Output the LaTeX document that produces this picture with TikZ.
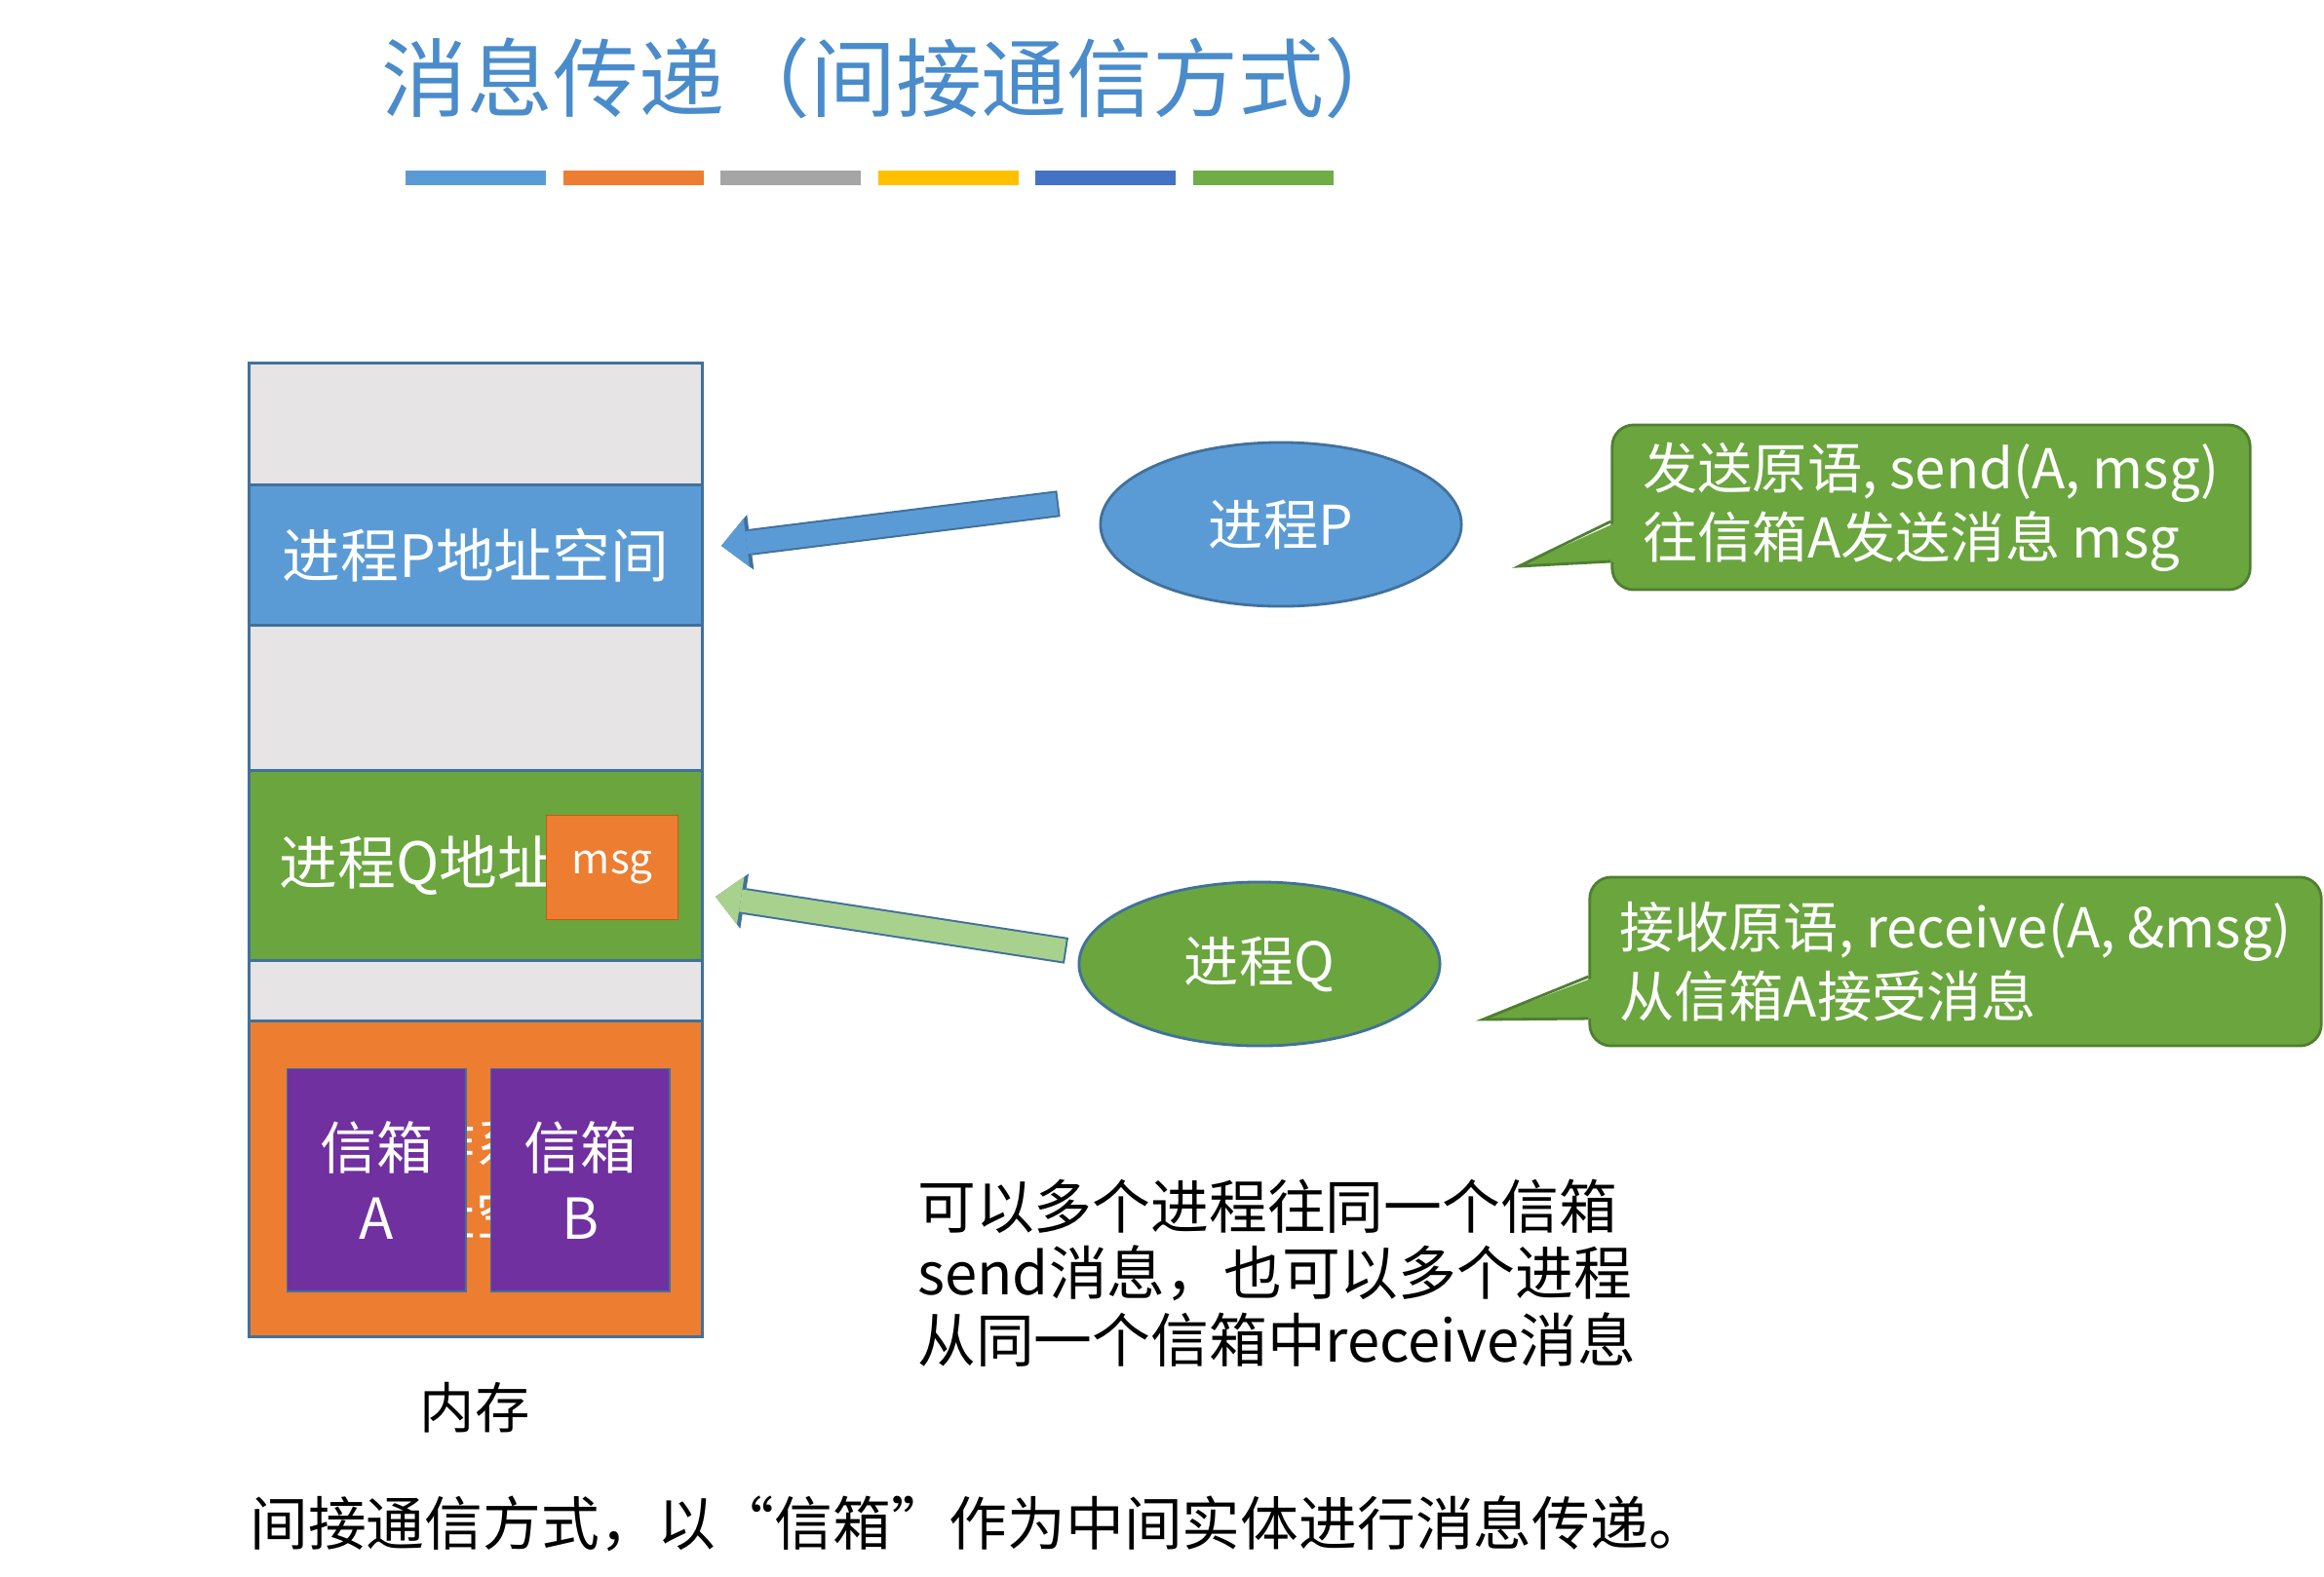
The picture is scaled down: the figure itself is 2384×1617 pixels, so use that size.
\documentclass[tikz,border=0pt]{standalone}
\usepackage{fontspec}
\setmainfont{Noto Sans CJK SC}
\usetikzlibrary{shapes.geometric,arrows.meta}

\definecolor{titleblue}{HTML}{4A8CCB}
\definecolor{pblue}{HTML}{5B9BD5}
\definecolor{pline}{HTML}{41719C}
\definecolor{qgreen}{HTML}{6AA53E}
\definecolor{qline}{HTML}{507E32}
\definecolor{qlight}{HTML}{A9D18E}
\definecolor{memgray}{HTML}{E6E4E4}
\definecolor{sysorange}{HTML}{ED7D31}
\definecolor{msgline}{HTML}{C55A11}
\definecolor{boxpurple}{HTML}{7030A0}
\definecolor{bargray}{HTML}{A5A5A5}
\definecolor{baryellow}{HTML}{FFC000}
\definecolor{bardark}{HTML}{4472C4}
\definecolor{bargreen}{HTML}{70AD47}

\tikzset{
  memcell/.style={draw=pline, line width=0.8pt, minimum width=4.65cm, inner sep=0pt, anchor=north west},
  mailbox/.style={draw=pline, fill=boxpurple, text=white, minimum width=1.83cm, minimum height=2.28cm,
    anchor=north west, inner sep=0pt, align=center, font=\fontsize{16.5}{20.5}\selectfont},
  proc/.style={ellipse, draw=pline, line width=0.8pt, text=white, minimum width=3.7cm, minimum height=1.68cm,
    font=\fontsize{16}{20}\selectfont},
  note/.style={draw=qline, fill=qgreen, rounded corners=0.22cm, line width=0.8pt, text=white, align=left,
    inner sep=0pt, font=\fontsize{16}{20.3}\selectfont},
  pipe/.style 2 args={draw=#1, line width=0.23cm, -{Triangle[length=0.26cm, width=0.5cm, line width=0pt]},
    preaction={draw=#2, line width=0.27cm, shorten <=-0.02cm, -{Triangle[length=0.3cm, width=0.57cm, line width=0pt]}}},
}

\begin{document}
\begin{tikzpicture}[x=0.01cm, y=-0.01cm]
	\path[use as bounding box, fill=white] (0,0) rectangle (2384,1617);
	% Titel
	\node[text=titleblue, font=\fontsize{25}{29}\selectfont] (title) at (919,80) {消息传递（间接通信方式）};
	\foreach \c [count=\i from 0] in {pblue,sysorange,bargray,baryellow,bardark,bargreen}
		\fill[\c] (416+\i*161.6,175) rectangle ++(144,15);
	% Speicher
	\node[memcell, fill=memgray, minimum height=1.25cm] (memTop) at (254,371) {};
	\node[memcell, fill=pblue, minimum height=1.44cm, text=white, font=\fontsize{17}{20}\selectfont] (memP) at (254,496) {进程P地址空间};
	\node[memcell, fill=memgray, minimum height=1.49cm] (memMid) at (254,640) {};
	\node[memcell, fill=qgreen, minimum height=1.95cm, text=white, font=\fontsize{17}{20}\selectfont] (memQ) at (254,789) {进程Q地址空间};
	\node[memcell, fill=memgray, minimum height=0.62cm] (memLow) at (254,984) {};
	\node[memcell, fill=sysorange, minimum height=3.24cm, text=white, align=center, font=\fontsize{16}{20.5}\selectfont] (memSys) at (254,1046) {操作系统\\地址空间};
	\node[draw=msgline, fill=sysorange, text=white, minimum width=1.35cm, minimum height=1.07cm, inner sep=0pt,
		anchor=north west, font=\fontsize{12}{14}\selectfont] (msg) at (560,836) {msg};
	\node[mailbox] (boxA) at (294,1096) {信箱\\A};
	\node[mailbox] (boxB) at (503,1096) {信箱\\B};
	\node[font=\fontsize{16}{20}\selectfont] (mem) at (487,1444) {内存};
	% Prozesse
	\node[proc, fill=pblue] (procP) at (1314,538) {进程P};
	\node[proc, fill=qgreen] (procQ) at (1292,989) {进程Q};
	\coordinate (pTail) at (1084,517);
	\coordinate (pTip)  at (740,560);
	\coordinate (qTail) at (1092,975);
	\coordinate (qTip)  at (734,920);
	\draw[pipe={pblue}{pline}] (pTail) -- (pTip);
	\draw[pipe={qlight}{pline}] (qTail) -- (qTip);
	% Sprechblasen
	\node[note, minimum width=6.54cm, minimum height=1.69cm] (sendNote) at (1981,520.5)
		{发送原语, send(A, msg)\\往信箱A发送消息 msg};
	\node[note, minimum width=7.5cm, minimum height=1.73cm] (recvNote) at (2006,986.5)
		{接收原语, receive(A, \&msg)\\从信箱A接受消息};
	\coordinate (sendTip) at (1558,581);
	\coordinate (recvTip) at (1521,1046);
	\fill[qgreen] ([xshift=0.08cm,yshift=-0.145cm]sendNote.west) -- (sendTip) -- ([xshift=0.08cm,yshift=-0.555cm]sendNote.west) -- cycle;
	\draw[qline, line width=0.8pt] ([yshift=-0.145cm]sendNote.west) -- (sendTip) -- ([yshift=-0.555cm]sendNote.west);
	\fill[qgreen] ([xshift=0.08cm,yshift=-0.155cm]recvNote.west) -- (recvTip) -- ([xshift=0.08cm,yshift=-0.585cm]recvNote.west) -- cycle;
	\draw[qline, line width=0.8pt] ([yshift=-0.155cm]recvNote.west) -- (recvTip) -- ([yshift=-0.585cm]recvNote.west);
	% Texte
	\node[anchor=west, align=left, font=\fontsize{17}{19.5}\selectfont] (multi) at (929,1306)
		{可以多个进程往同一个信箱\\send消息，也可以多个进程\\从同一个信箱中receive消息};
	\node[anchor=west, font=\fontsize{17}{21}\selectfont] (summary) at (244,1563)
		{间接通信方式，以“信箱”作为中间实体进行消息传递。};
\end{tikzpicture}
\end{document}
